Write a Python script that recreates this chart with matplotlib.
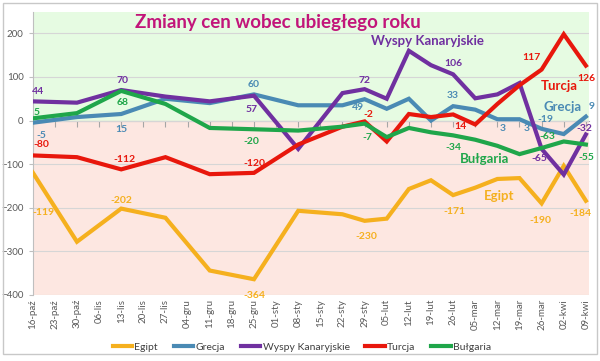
import matplotlib
matplotlib.use("Agg")
import matplotlib.pyplot as plt
from matplotlib.patches import Rectangle

plt.rcParams["font.family"] = ["Lato", "DejaVu Sans"]

# weekly category labels on the x axis
weeks = ["16-paź", "23-paź", "30-paź", "06-lis", "13-lis", "20-lis", "27-lis",
         "04-gru", "11-gru", "18-gru", "25-gru", "01-sty", "08-sty", "15-sty",
         "22-sty", "29-sty", "05-lut", "12-lut", "19-lut", "26-lut", "05-mar",
         "12-mar", "19-mar", "26-mar", "02-kwi", "09-kwi"]

# week index of each measurement (bi-weekly until 22-sty, weekly afterwards)
obs_week = [0, 2, 4, 6, 8, 10, 12, 14, 15, 16, 17, 18, 19, 20, 21, 22, 23, 24, 25]

egipt = [-119, -278, -202, -223, -344, -364, -207, -215, -230, -225, -157, -137,
         -171, -154, -134, -132, -190, -104, -184]
grecja = [-5, 8, 15, 50, 40, 60, 35, 35, 49, 27, 50, 0, 33, 25, 3, 3, -19, -31, 9]
wyspy = [44, 41, 70, 55, 44, 57, -65, 63, 72, 50, 160, 127, 106, 51, 60, 86, -65,
         -124, -32]
turcja = [-80, -84, -112, -84, -123, -120, -55, -14, -2, -48, 15, 8, 14, -9, 38, 81,
          117, 198, 126]
bulgaria = [5, 17, 68, 38, -17, -20, -23, -14, -7, -38, -17, -27, -34, -44, -58, -77,
            -63, -48, -55]

series = [
    ("Egipt", egipt, "#F5B01E"),
    ("Grecja", grecja, "#4A8AB4"),
    ("Wyspy Kanaryjskie", wyspy, "#7030A0"),
    ("Turcja", turcja, "#E8170C"),
    ("Bułgaria", bulgaria, "#1FA64A"),
]

# data labels: series -> list of (measurement index, offset in points)
value_labels = {
    "Egipt": [(0, (8, -29)), (2, (0, 6)), (5, (0, -12)), (8, (1, -11)),
              (12, (1, -12)), (16, (-1, -12)), (18, (-4, -9))],
    "Grecja": [(0, (6, -9)), (2, (0, -11)), (5, (0, 7)), (8, (-5, -6)),
               (12, (0, 8)), (14, (4, -7)), (15, (5, -7)), (16, (3, 7)), (18, (4, 7))],
    "Wyspy Kanaryjskie": [(0, (4, 7)), (2, (1, 7)), (5, (-2, -10)), (8, (0, 6)),
                          (12, (0, 8)), (16, (-2, -7)), (18, (-1, 4))],
    "Turcja": [(0, (6, 8)), (2, (2, 7)), (5, (0, 7)), (8, (3, 5)),
               (12, (5, -9)), (16, (-7, 9)), (18, (0, -9))],
    "Bułgaria": [(0, (3, 4)), (2, (1, -8)), (5, (-2, -9)), (8, (2, -10)),
                 (12, (0, -9)), (16, (4, 8)), (18, (0, -9))],
}

# series name captions inside the plot
captions = [
    ("Wyspy Kanaryjskie", 17.83, 182),
    ("Turcja", 23.79, 79),
    ("Grecja", 23.94, 31),
    ("Bułgaria", 20.43, -88),
    ("Egipt", 21.07, -174),
]

fig = plt.figure(figsize=(6.0, 3.61), dpi=100)
fig.patches.append(Rectangle((0.005, 0.019), 0.99, 0.972, transform=fig.transFigure,
                             fill=False, edgecolor="#C8C8C8", linewidth=1))
ax = fig.add_axes([0.0545, 0.183, 0.9275, 0.785])

ax.set_xlim(0, 25.15)
ax.set_ylim(-400, 250)
ax.axhspan(0, 250, color="#E6FBE2", zorder=0)
ax.axhspan(-400, 0, color="#FDE7E1", zorder=0)
for yv in range(-400, 201, 100):
    ax.axhline(yv, color="#D6D6D6", linewidth=0.8, zorder=1)

colors = {}
for name, vals, col in series:
    colors[name] = col
    ax.plot(obs_week, vals, color=col, linewidth=3, label=name,
            solid_joinstyle="miter", zorder=3)

for name, vals, col in series:
    for idx, (dx, dy) in value_labels[name]:
        ax.annotate(str(vals[idx]), (obs_week[idx], vals[idx]), xytext=(dx, dy),
                    textcoords="offset points", ha="center", va="center",
                    fontsize=7.5, fontweight="bold", color=col, zorder=4,
                    annotation_clip=False)

for name, xv, yv in captions:
    ax.text(xv, yv, name, ha="center", va="center", fontsize=9.5,
            fontweight="bold", color=colors[name], zorder=4)

ax.text(0.44, 0.96, "Zmiany cen wobec ubiegłego roku", transform=ax.transAxes,
        ha="center", va="center", fontsize=13.5, fontweight="bold", color="#C2157A")

# x axis labels at the bottom, tick marks on the zero line
ax.set_xticks(range(len(weeks)))
ax.set_xticklabels(weeks, rotation=90, fontsize=7, color="#595959")
ax.tick_params(axis="x", length=0, pad=3)
ax.set_yticks(range(-400, 201, 100))
ax.tick_params(axis="y", labelsize=7, colors="#595959", length=3, color="#BFBFBF")
for side in ["top", "right", "bottom"]:
    ax.spines[side].set_visible(False)
ax.spines["left"].set_color("#BFBFBF")

zero_axis = ax.secondary_xaxis(0, transform=ax.transData)
zero_axis.set_xticks(range(len(weeks)))
zero_axis.set_xticklabels([])
zero_axis.tick_params(length=4, color="#A6A6A6", direction="out")
zero_axis.spines["bottom"].set_color("#A6A6A6")

fig.legend(loc="center", bbox_to_anchor=(0.503, 0.039), ncol=5, frameon=False,
           fontsize=7.5, handlelength=1.9, handletextpad=0.2, columnspacing=1.5,
           labelcolor="#404040")

fig.savefig("out.png", dpi=100)
